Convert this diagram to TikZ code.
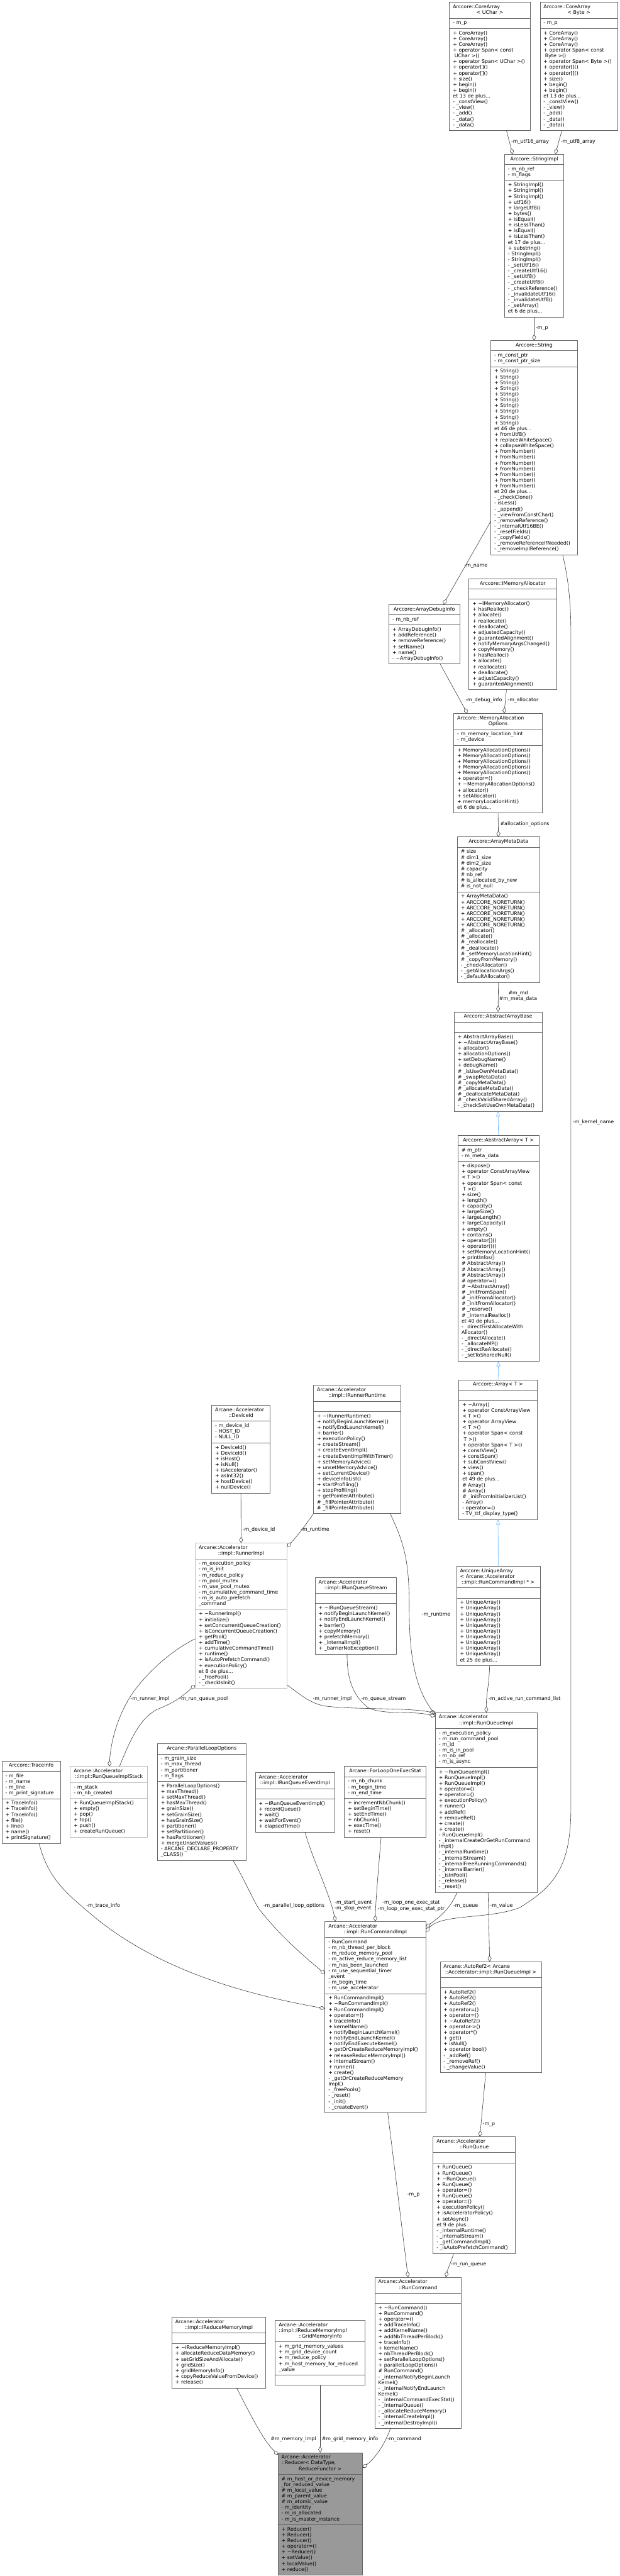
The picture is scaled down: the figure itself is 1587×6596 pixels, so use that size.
\documentclass[tikz,border=0pt]{standalone}
\usepackage{fontspec}
\setmainfont{DejaVu Sans}
\usepackage{tikz}
\usetikzlibrary{shapes.multipart}
\usetikzlibrary{arrows.meta}

\definecolor{clsborder}{HTML}{666666}
\definecolor{clslight}{HTML}{BFBFBF}
\definecolor{clsmain}{HTML}{999999}
\definecolor{edgeuse}{HTML}{404040}
\definecolor{edgeinh}{HTML}{63B8FF}

\newcommand{\uml}[3]{\strut#1\strut\nodepart{second}\strut#2\strut\nodepart{third}\strut#3\strut}
\newcommand{\lastl}[1]{\makebox[\linewidth]{#1}}

\tikzset{
	node_cls/.style = {
		rectangle split,
		rectangle split parts=3,
		draw=clsborder,
		fill=white,
		line width=1pt,
		text width=#1,
		align=left,
		font=\fontsize{12.7}{14.7}\selectfont,
		inner xsep=9pt,
		inner ysep=5.2pt,
		outer sep=0pt,
		anchor=north west
	},
	node_light/.style = {
		node_cls=#1,
		draw=clslight
	},
	node_main/.style = {
		node_cls=#1,
		fill=clsmain
	},
	lbl/.style = {
		font=\fontsize{12.7}{14.7}\selectfont,
		inner sep=0pt,
		anchor=west,
		text height=10.3pt,
		text depth=4.4pt
	},
	lbl2/.style = {
		font=\fontsize{12.7}{14.7}\selectfont,
		inner sep=0pt
	},
	use_edge/.style = {
		draw=edgeuse,
		line width=1pt,
		-{Diamond[open, length=16pt, width=10pt]}
	},
	inh_edge/.style = {
		draw=edgeinh,
		line width=1pt,
		-{Triangle[open, length=13pt, width=10pt]}
	}
}

\begin{document}
\begin{tikzpicture}[x=1pt, y=-1pt]
\fontsize{12.7}{14.7}\selectfont
\useasboundingbox (0,0) rectangle (1587,6596);
\fill[white] (0,0) rectangle (1587,6596);

\node[node_cls=189pt] (ca_uchar) at (1151,6) {\uml{Arccore::CoreArray\\\lastl{< UChar >}}{- m\_p}{+ CoreArray()\\+ CoreArray()\\+ CoreArray()\\+ operator Span< const\\\hspace*{4pt}UChar >()\\+ operator Span< UChar >()\\+ operator[]()\\+ operator[]()\\+ size()\\+ begin()\\+ begin()\\et 13 de plus...\\- \_constView()\\- \_view()\\- \_add()\\- \_data()\\- \_data()}};
\node[node_cls=181pt] (ca_byte) at (1383,6) {\uml{Arccore::CoreArray\\\lastl{< Byte >}}{- m\_p}{+ CoreArray()\\+ CoreArray()\\+ CoreArray()\\+ operator Span< const\\\hspace*{4pt}Byte >()\\+ operator Span< Byte >()\\+ operator[]()\\+ operator[]()\\+ size()\\+ begin()\\+ begin()\\et 13 de plus...\\- \_constView()\\- \_view()\\- \_add()\\- \_data()\\- \_data()}};
\node[node_cls=134pt] (string_impl) at (1292,395) {\uml{\lastl{Arccore::StringImpl}}{- m\_nb\_ref\\- m\_flags}{+ StringImpl()\\+ StringImpl()\\+ StringImpl()\\+ utf16()\\+ largeUtf8()\\+ bytes()\\+ isEqual()\\+ isLessThan()\\+ isEqual()\\+ isLessThan()\\et 17 de plus...\\+ substring()\\- StringImpl()\\- StringImpl()\\- \_setUtf16()\\- \_createUtf16()\\- \_setUtf8()\\- \_createUtf8()\\- \_checkReference()\\- \_invalidateUtf16()\\- \_invalidateUtf8()\\- \_setArray()\\et 6 de plus...}};
\node[node_cls=204pt] (string) at (1257,872) {\uml{\lastl{Arccore::String}}{- m\_const\_ptr\\- m\_const\_ptr\_size}{+ String()\\+ String()\\+ String()\\+ String()\\+ String()\\+ String()\\+ String()\\+ String()\\+ String()\\+ String()\\et 46 de plus...\\+ fromUtf8()\\+ replaceWhiteSpace()\\+ collapseWhiteSpace()\\+ fromNumber()\\+ fromNumber()\\+ fromNumber()\\+ fromNumber()\\+ fromNumber()\\+ fromNumber()\\+ fromNumber()\\et 20 de plus...\\- \_checkClone()\\- isLess()\\- \_append()\\- \_viewFromConstChar()\\- \_removeReference()\\- \_internalUtf16BE()\\- \_resetFields()\\- \_copyFields()\\- \_removeReferenceIfNeeded()\\- \_removeImplReference()}};
\node[node_cls=163pt] (debug_info) at (996,1548) {\uml{\lastl{Arccore::ArrayDebugInfo}}{- m\_nb\_ref}{+ ArrayDebugInfo()\\+ addReference()\\+ removeReference()\\+ setName()\\+ name()\\- \textasciitilde ArrayDebugInfo()}};
\node[node_cls=206pt] (mem_alloc) at (1201,1482) {\uml{\lastl{Arccore::IMemoryAllocator}}{}{+ \textasciitilde IMemoryAllocator()\\+ hasRealloc()\\+ allocate()\\+ reallocate()\\+ deallocate()\\+ adjustedCapacity()\\+ guarantedAlignment()\\+ notifyMemoryArgsChanged()\\+ copyMemory()\\+ hasRealloc()\\+ allocate()\\+ reallocate()\\+ deallocate()\\+ adjustCapacity()\\+ guarantedAlignment()}};
\node[node_cls=209pt] (mem_opts) at (1162,1827) {\uml{Arccore::MemoryAllocation\\\lastl{Options}}{- m\_memory\_location\_hint\\- m\_device}{+ MemoryAllocationOptions()\\+ MemoryAllocationOptions()\\+ MemoryAllocationOptions()\\+ MemoryAllocationOptions()\\+ MemoryAllocationOptions()\\+ operator=()\\+ \textasciitilde MemoryAllocationOptions()\\+ allocator()\\+ setAllocator()\\+ memoryLocationHint()\\et 6 de plus...}};
\node[node_cls=193pt] (meta_data) at (1171,2143) {\uml{\lastl{Arccore::ArrayMetaData}}{\# size\\\# dim1\_size\\\# dim2\_size\\\# capacity\\\# nb\_ref\\\# is\_allocated\_by\_new\\\# is\_not\_null}{+ ArrayMetaData()\\+ ARCCORE\_NORETURN()\\+ ARCCORE\_NORETURN()\\+ ARCCORE\_NORETURN()\\+ ARCCORE\_NORETURN()\\+ ARCCORE\_NORETURN()\\\# \_allocator()\\\# \_allocate()\\\# \_reallocate()\\\# \_deallocate()\\\# \_setMemoryLocationHint()\\\# \_copyFromMemory()\\- \_checkAllocator()\\- \_getAllocationArgs()\\- \_defaultAllocator()}};
\node[node_cls=207pt] (abs_base) at (1163,2591) {\uml{\lastl{Arccore::AbstractArrayBase}}{}{+ AbstractArrayBase()\\+ \textasciitilde AbstractArrayBase()\\+ allocator()\\+ allocationOptions()\\+ setDebugName()\\+ debugName()\\\# \_isUseOwnMetaData()\\\# \_swapMetaData()\\\# \_copyMetaData()\\\# \_allocateMetaData()\\\# \_deallocateMetaData()\\\# \_checkValidSharedArray()\\- \_checkSetUseOwnMetaData()}};
\node[node_cls=189pt] (abs_array) at (1173,2907) {\uml{\lastl{Arccore::AbstractArray< T >}}{\# m\_ptr\\- m\_meta\_data}{+ dispose()\\+ operator ConstArrayView\\< T >()\\+ operator Span< const\\\hspace*{4pt}T >()\\+ size()\\+ length()\\+ capacity()\\+ largeSize()\\+ largeLength()\\+ largeCapacity()\\+ empty()\\+ contains()\\+ operator[]()\\+ operator()()\\+ setMemoryLocationHint()\\+ printInfos()\\\# AbstractArray()\\\# AbstractArray()\\\# AbstractArray()\\\# operator=()\\\# \textasciitilde AbstractArray()\\\# \_initFromSpan()\\\# \_initFromAllocator()\\\# \_initFromAllocator()\\\# \_reserve()\\\# \_internalRealloc()\\et 40 de plus...\\- \_directFirstAllocateWith\\Allocator()\\- \_directAllocate()\\- \_allocateMP()\\- \_directReAllocate()\\- \_setToSharedNull()}};
\node[node_cls=183pt] (array) at (1175,3533) {\uml{\lastl{Arccore::Array< T >}}{}{+ \textasciitilde Array()\\+ operator ConstArrayView\\< T >()\\+ operator ArrayView\\< T >()\\+ operator Span< const\\\hspace*{4pt}T >()\\+ operator Span< T >()\\+ constView()\\+ constSpan()\\+ subConstView()\\+ view()\\+ span()\\et 49 de plus...\\\# Array()\\\# Array()\\\# \_initFromInitializerList()\\- Array()\\- operator=()\\- TV\_ttf\_display\_type()}};
\node[node_cls=196pt] (unique) at (1169,4010) {\uml{Arccore::UniqueArray\\< Arcane::Accelerator\\\lastl{::impl::RunCommandImpl * >}}{}{+ UniqueArray()\\+ UniqueArray()\\+ UniqueArray()\\+ UniqueArray()\\+ UniqueArray()\\+ UniqueArray()\\+ UniqueArray()\\+ UniqueArray()\\+ UniqueArray()\\+ UniqueArray()\\et 25 de plus...}};
\node[node_cls=205pt] (runtime) at (803,3547) {\uml{Arcane::Accelerator\\\lastl{::impl::IRunnerRuntime}}{}{+ \textasciitilde IRunnerRuntime()\\+ notifyBeginLaunchKernel()\\+ notifyEndLaunchKernel()\\+ barrier()\\+ executionPolicy()\\+ createStream()\\+ createEventImpl()\\+ createEventImplWithTimer()\\+ setMemoryAdvice()\\+ unsetMemoryAdvice()\\+ setCurrentDevice()\\+ deviceInfoList()\\+ startProfiling()\\+ stopProfiling()\\+ getPointerAttribute()\\\# \_fillPointerAttribute()\\\# \_fillPointerAttribute()}};
\node[node_cls=132pt] (device_id) at (542,3598) {\uml{Arcane::Accelerator\\\lastl{::DeviceId}}{- m\_device\_id\\- HOST\_ID\\- NULL\_ID}{+ DeviceId()\\+ DeviceId()\\+ isHost()\\+ isNull()\\+ isAccelerator()\\+ asInt32()\\+ hostDevice()\\+ nullDevice()}};
\node[node_light=217pt] (runner_impl) at (500,3951) {\uml{Arcane::Accelerator\\\lastl{::impl::RunnerImpl}}{- m\_execution\_policy\\- m\_is\_init\\- m\_reduce\_policy\\- m\_pool\_mutex\\- m\_use\_pool\_mutex\\- m\_cumulative\_command\_time\\- m\_is\_auto\_prefetch\\\_command}{+ \textasciitilde RunnerImpl()\\+ initialize()\\+ setConcurrentQueueCreation()\\+ isConcurrentQueueCreation()\\+ getPool()\\+ addTime()\\+ cumulativeCommandTime()\\+ runtime()\\+ isAutoPrefetchCommand()\\+ executionPolicy()\\et 8 de plus...\\- \_freePool()\\- \_checkIsInit()}};
\node[node_cls=190pt] (stream) at (807,4039) {\uml{Arcane::Accelerator\\\lastl{::impl::IRunQueueStream}}{}{+ \textasciitilde IRunQueueStream()\\+ notifyBeginLaunchKernel()\\+ notifyEndLaunchKernel()\\+ barrier()\\+ copyMemory()\\+ prefetchMemory()\\+ \_internalImpl()\\+ \_barrierNoException()}};
\node[node_cls=132pt] (trace_info) at (5,4509) {\uml{\lastl{Arccore::TraceInfo}}{- m\_file\\- m\_name\\- m\_line\\- m\_print\_signature}{+ TraceInfo()\\+ TraceInfo()\\+ TraceInfo()\\+ file()\\+ line()\\+ name()\\+ printSignature()}};
\node[node_light=180pt] (queue_stack) at (180,4523) {\uml{Arcane::Accelerator\\\lastl{::impl::RunQueueImplStack}}{- m\_stack\\- m\_nb\_created}{+ RunQueueImplStack()\\+ empty()\\+ pop()\\+ top()\\+ push()\\+ createRunQueue()}};
\node[node_cls=209pt] (loop_opts) at (403,4465) {\uml{\lastl{Arcane::ParallelLoopOptions}}{- m\_grain\_size\\- m\_max\_thread\\- m\_partitioner\\- m\_flags}{+ ParallelLoopOptions()\\+ maxThread()\\+ setMaxThread()\\+ hasMaxThread()\\+ grainSize()\\+ setGrainSize()\\+ hasGrainSize()\\+ partitioner()\\+ setPartitioner()\\+ hasPartitioner()\\+ mergeUnsetValues()\\- ARCANE\_DECLARE\_PROPERTY\\\_CLASS()}};
\node[node_cls=185pt] (event_impl) at (654,4539) {\uml{Arcane::Accelerator\\\lastl{::impl::IRunQueueEventImpl}}{}{+ \textasciitilde IRunQueueEventImpl()\\+ recordQueue()\\+ wait()\\+ waitForEvent()\\+ elapsedTime()}};
\node[node_cls=191pt] (exec_stat) at (882,4523) {\uml{\lastl{Arcane::ForLoopOneExecStat}}{- m\_nb\_chunk\\- m\_begin\_time\\- m\_end\_time}{+ incrementNbChunk()\\+ setBeginTime()\\+ setEndTime()\\+ nbChunk()\\+ execTime()\\+ reset()}};
\node[node_cls=243pt] (queue_impl) at (1115,4385) {\uml{Arcane::Accelerator\\\lastl{::impl::RunQueueImpl}}{- m\_execution\_policy\\- m\_run\_command\_pool\\- m\_id\\- m\_is\_in\_pool\\- m\_nb\_ref\\- m\_is\_async}{+ \textasciitilde RunQueueImpl()\\+ RunQueueImpl()\\+ RunQueueImpl()\\+ operator=()\\+ operator=()\\+ executionPolicy()\\+ runner()\\+ addRef()\\+ removeRef()\\+ create()\\+ create()\\- RunQueueImpl()\\- \_internalCreateOrGetRunCommand\\Impl()\\- \_internalRuntime()\\- \_internalStream()\\- \_internalFreeRunningCommands()\\- \_internalBarrier()\\- \_isInPool()\\- \_release()\\- \_reset()}};
\node[node_cls=240pt] (cmd_impl) at (832,4920) {\uml{Arcane::Accelerator\\\lastl{::impl::RunCommandImpl}}{- RunCommand\\- m\_nb\_thread\_per\_block\\- m\_reduce\_memory\_pool\\- m\_active\_reduce\_memory\_list\\- m\_has\_been\_launched\\- m\_use\_sequential\_timer\\\_event\\- m\_begin\_time\\- m\_use\_accelerator}{+ RunCommandImpl()\\+ \textasciitilde RunCommandImpl()\\+ RunCommandImpl()\\+ operator=()\\+ traceInfo()\\+ kernelName()\\+ notifyBeginLaunchKernel()\\+ notifyEndLaunchKernel()\\+ notifyEndExecuteKernel()\\+ getOrCreateReduceMemoryImpl()\\+ releaseReduceMemoryImpl()\\+ internalStream()\\+ runner()\\+ create()\\- \_getOrCreateReduceMemory\\Impl()\\- \_freePools()\\- \_reset()\\- \_init()\\- \_createEvent()}};
\node[node_cls=242pt] (auto_ref) at (1127,5023) {\uml{Arcane::AutoRef2< Arcane\\\lastl{::Accelerator::impl::RunQueueImpl >}}{}{+ AutoRef2()\\+ AutoRef2()\\+ AutoRef2()\\+ operator=()\\+ operator=()\\+ \textasciitilde AutoRef2()\\+ operator->()\\+ operator*()\\+ get()\\+ isNull()\\+ operator bool()\\- \_addRef()\\- \_removeRef()\\- \_changeValue()}};
\node[node_cls=193pt] (run_queue) at (1109,5471) {\uml{Arcane::Accelerator\\\lastl{::RunQueue}}{}{+ RunQueue()\\+ RunQueue()\\+ \textasciitilde RunQueue()\\+ RunQueue()\\+ operator=()\\+ RunQueue()\\+ operator=()\\+ executionPolicy()\\+ isAcceleratorPolicy()\\+ setAsync()\\et 9 de plus...\\- \_internalRuntime()\\- \_internalStream()\\- \_getCommandImpl()\\- \_isAutoPrefetchCommand()}};
\node[node_cls=203pt] (run_cmd) at (960,5831) {\uml{Arcane::Accelerator\\\lastl{::RunCommand}}{}{+ \textasciitilde RunCommand()\\+ RunCommand()\\+ operator=()\\+ addTraceInfo()\\+ addKernelName()\\+ addNbThreadPerBlock()\\+ traceInfo()\\+ kernelName()\\+ nbThreadPerBlock()\\+ setParallelLoopOptions()\\+ parallelLoopOptions()\\\# RunCommand()\\- \_internalNotifyBeginLaunch\\Kernel()\\- \_internalNotifyEndLaunch\\Kernel()\\- \_internalCommandExecStat()\\- \_internalQueue()\\- \_allocateReduceMemory()\\- \_internalCreateImpl()\\- \_internalDestroyImpl()}};
\node[node_cls=222pt] (reduce_mem) at (440,5933) {\uml{Arcane::Accelerator\\\lastl{::impl::IReduceMemoryImpl}}{}{+ \textasciitilde IReduceMemoryImpl()\\+ allocateReduceDataMemory()\\+ setGridSizeAndAllocate()\\+ gridSize()\\+ gridMemoryInfo()\\+ copyReduceValueFromDevice()\\+ release()}};
\node[node_cls=212pt] (grid_info) at (705,5941) {\uml{Arcane::Accelerator\\::impl::IReduceMemoryImpl\\\lastl{::GridMemoryInfo}}{+ m\_grid\_memory\_values\\+ m\_grid\_device\_count\\+ m\_reduce\_policy\\+ m\_host\_memory\_for\_reduced\\\_value}{}};
\node[node_main=198pt] (reducer) at (712,6280) {\uml{Arcane::Accelerator\\::Reducer< DataType,\\\lastl{ReduceFunctor >}}{\# m\_host\_or\_device\_memory\\\_for\_reduced\_value\\\# m\_local\_value\\\# m\_parent\_value\\\# m\_atomic\_value\\- m\_identity\\- m\_is\_allocated\\- m\_is\_master\_instance}{+ Reducer()\\+ Reducer()\\+ Reducer()\\+ operator=()\\+ \textasciitilde Reducer()\\+ setValue()\\+ localValue()\\+ reduce()}};

\draw[use_edge] ([xshift=42.5pt]ca_uchar.south) -- ([xshift=-55pt]string_impl.north);
\draw[use_edge] ([xshift=-43.5pt]ca_byte.south) -- ([xshift=54pt]string_impl.north);
\draw[use_edge] (string_impl.south) -- (string.north);
\draw[use_edge] ([yshift=-188pt]string.west) -- ([xshift=48.5pt]debug_info.north);
\draw[use_edge] ([xshift=73pt]string.south) .. controls (1455,1480) and (1462,1540) .. (1462,1620) -- (1462,4630) .. controls (1462,4780) and (1420,4830) .. (1330,4885) .. controls (1250,4915) and (1130,4900) .. ([yshift=-27pt]cmd_impl.north east);
\draw[use_edge] ([xshift=40.5pt]debug_info.south) -- ([xshift=-78.5pt]mem_opts.north);
\draw[use_edge] ([xshift=-16pt]mem_alloc.south) -- ([xshift=15.5pt]mem_opts.north);
\draw[use_edge] (mem_opts.south) -- (meta_data.north);
\draw[use_edge] (meta_data.south) -- (abs_base.north);
\draw[inh_edge] (abs_array.north) -- (abs_base.south);
\draw[inh_edge] (array.north) -- (abs_array.south);
\draw[inh_edge] (unique.north) -- (array.south);
\draw[use_edge] ([xshift=-22pt]unique.south) .. controls (1252,4320) and (1245,4340) .. (queue_impl.north);
\draw[use_edge] (device_id.south) -- (runner_impl.north);
\draw[use_edge] (runtime.south west) .. controls (790,3895) and (760,3935) .. ([yshift=-10pt]runner_impl.north east);
\draw[use_edge] ([xshift=84.5pt]runtime.south) .. controls (1040,3960) and (1048,4010) .. (1048,4120) .. controls (1048,4260) and (1070,4330) .. ([yshift=-6pt]queue_impl.north west);
\draw[use_edge] ([xshift=-22pt]stream.south) .. controls (888,4300) and (905,4345) .. (945,4374) .. controls (990,4392) and (1060,4380) .. ([yshift=-10pt]queue_impl.north west);
\draw[use_edge] ([yshift=9pt]runner_impl.south east) .. controls (765,4335) and (790,4360) .. (830,4368) .. controls (900,4378) and (1050,4372) .. ([yshift=-2pt]queue_impl.north west);
\draw[use_edge] ([yshift=-59pt]runner_impl.west) .. controls (430,4230) and (360,4300) .. (330,4350) .. controls (295,4410) and (283,4470) .. ([xshift=1pt]queue_stack.north);
\draw[use_edge] ([xshift=27pt]queue_stack.north) .. controls (335,4450) and (360,4400) .. (400,4378) .. controls (440,4362) and (460,4350) .. ([yshift=9pt]runner_impl.south west);
\draw[use_edge] ([xshift=20pt]trace_info.south) .. controls (120,4800) and (160,4840) .. (220,4890) .. controls (400,5050) and (650,5110) .. ([yshift=-223pt]cmd_impl.north west);
\draw[use_edge] ([xshift=80.5pt]loop_opts.south) .. controls (630,4820) and (650,4870) .. (665,4890) .. controls (720,4960) and (780,5010) .. ([yshift=-134pt]cmd_impl.north west);
\draw[use_edge] ([xshift=25.5pt]event_impl.south) .. controls (800,4760) and (845,4850) .. ([xshift=27pt]cmd_impl.north west);
\draw[use_edge] ([xshift=-10.5pt]exec_stat.south) .. controls (968,4800) and (962,4870) .. (cmd_impl.north);
\draw[use_edge] ([xshift=-74.5pt]queue_impl.south) .. controls (1150,4890) and (1130,4905) .. ([yshift=-15pt]cmd_impl.north east);
\draw[use_edge] ([xshift=4.5pt]queue_impl.south) -- ([xshift=-3pt]auto_ref.north);
\draw[use_edge] ([xshift=-13pt]auto_ref.south) -- ([xshift=14.5pt]run_queue.north);
\draw[use_edge] ([xshift=32pt]cmd_impl.south) -- ([xshift=-25.5pt]run_cmd.north);
\draw[use_edge] ([xshift=-52.5pt]run_queue.south) .. controls (1152,5800) and (1145,5815) .. ([xshift=71.5pt]run_cmd.north);
\draw[use_edge] ([xshift=46pt]reduce_mem.south) .. controls (640,6180) and (670,6240) .. (695,6268) -- ([yshift=-6pt]reducer.north west);
\draw[use_edge] (grid_info.south) -- (reducer.north);
\draw[use_edge] ([xshift=-70.5pt]run_cmd.south) .. controls (985,6260) and (960,6295) .. ([yshift=-39pt]reducer.north east);

\node[lbl] (l_utf16) at (1309,363) {-m\_utf16\_array};
\node[lbl] (l_utf8) at (1436,363) {-m\_utf8\_array};
\node[lbl] (l_p_a) at (1372,840) {-m\_p};
\node[lbl] (l_name) at (1189,1448) {-m\_name};
\node[lbl] (l_kernel) at (1467,2874) {-m\_kernel\_name};
\node[lbl] (l_debug) at (1192,1794) {-m\_debug\_info};
\node[lbl] (l_alloc) at (1300,1794) {-m\_allocator};
\node[lbl] (l_opts) at (1281,2110) {\#allocation\_options};
\node[lbl2, align=center] (l_md) at (1327,2551) {\#m\_md\\\#m\_meta\_data};
\node[lbl] (l_active) at (1251,4351) {-m\_active\_run\_command\_list};
\node[lbl] (l_device) at (621,3918) {-m\_device\_id};
\node[lbl] (l_runtime_a) at (770,3918) {-m\_runtime};
\node[lbl] (l_runtime_b) at (1080,4134) {-m\_runtime};
\node[lbl] (l_runner_a) at (334,4351) {-m\_runner\_impl};
\node[lbl] (l_pool) at (459,4351) {-m\_run\_queue\_pool};
\node[lbl] (l_runner_b) at (801,4351) {-m\_runner\_impl};
\node[lbl] (l_stream) at (925,4351) {-m\_queue\_stream};
\node[lbl] (l_trace) at (221,4881) {-m\_trace\_info};
\node[lbl] (l_loop) at (674,4881) {-m\_parallel\_loop\_options};
\node[lbl2, align=left, anchor=west] (l_events) at (857,4880) {-m\_start\_event\\-m\_stop\_event};
\node[lbl2, align=center] (l_exec) at (1053,4880) {-m\_loop\_one\_exec\_stat\\-m\_loop\_one\_exec\_stat\_ptr};
\node[lbl] (l_queue) at (1161,4881) {-m\_queue};
\node[lbl] (l_value) at (1255,4881) {-m\_value};
\node[lbl] (l_p_b) at (1236,5439) {-m\_p};
\node[lbl] (l_p_c) at (1043,5619) {-m\_p};
\node[lbl] (l_run_queue) at (1154,5799) {-m\_run\_queue};
\node[lbl] (l_memory) at (693,6246) {\#m\_memory\_impl};
\node[lbl] (l_grid) at (824,6246) {\#m\_grid\_memory\_info};
\node[lbl] (l_command) at (992,6246) {-m\_command};
\end{tikzpicture}
\end{document}
